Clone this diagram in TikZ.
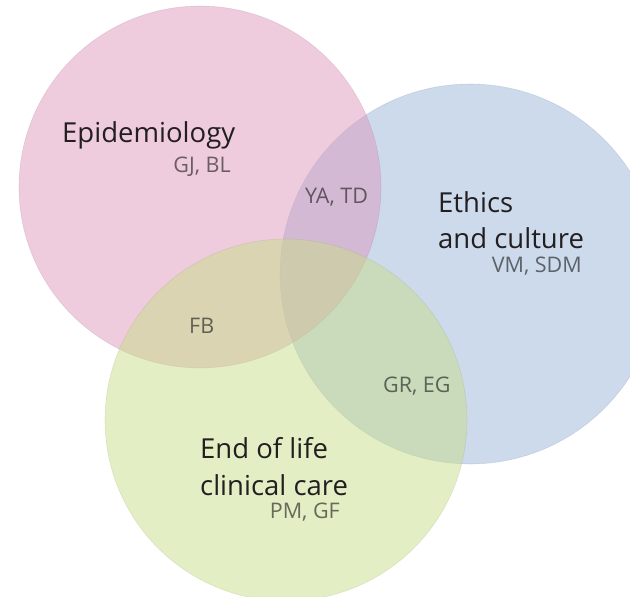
\documentclass[tikz,border=0pt]{standalone}
\usepackage{fontspec}
\setmainfont{Open Sans}
\usepackage{xcolor}
\usetikzlibrary{positioning}

\definecolor{epipink}{RGB}{221,153,189}
\definecolor{ethblue}{RGB}{153,181,217}
\definecolor{eolgreen}{RGB}{199,221,137}
\definecolor{labelgray}{RGB}{35,31,32}

\begin{document}
\begin{tikzpicture}[x=1pt, y=-1pt,
    area/.style={fill opacity=0.5, draw opacity=0.2, line width=0.6pt},
    title/.style={inner sep=0pt, font=\fontsize{27.5}{33}\selectfont, text=labelgray},
    names/.style={inner sep=0pt, font=\fontsize{21.5}{25}\selectfont, text=black!90, text opacity=0.62}]
  \useasboundingbox (0,0) rectangle (630,597);

  % the three fields, back to front
  \filldraw[area, fill=ethblue, draw=ethblue!70!black] (470,274) circle[radius=190pt];
  \filldraw[area, fill=epipink, draw=epipink!70!black] (200,187) circle[radius=181pt];
  \filldraw[area, fill=eolgreen, draw=eolgreen!70!black] (286,420) circle[radius=181pt];

  % field titles
  \node (epi) [title, anchor=base west] at (62,142) {Epidemiology};
  \node (eth) [title, anchor=base west] at (438,212) {Ethics};
  \node (cult) [title, anchor=base west] at (438,248) {and culture};
  \node (eol) [title, anchor=base west] at (200,458) {End of life};
  \node (care) [title, anchor=base west] at (200,495) {clinical care};

  % people in each field and overlap
  \node (gjbl) [names, anchor=base east] at (231,172) {GJ, BL};
  \node (vmsdm) [names, anchor=base east] at (582,272) {VM, SDM};
  \node (pmgf) [names, anchor=base east] at (340,518) {PM, GF};
  \node (yatd) [names, anchor=base west] at (305,203) {YA, TD};
  \node (fb) [names, anchor=base west] at (189,333) {FB};
  \node (greg) [names, anchor=base west] at (383,392) {GR, EG};
\end{tikzpicture}
\end{document}
